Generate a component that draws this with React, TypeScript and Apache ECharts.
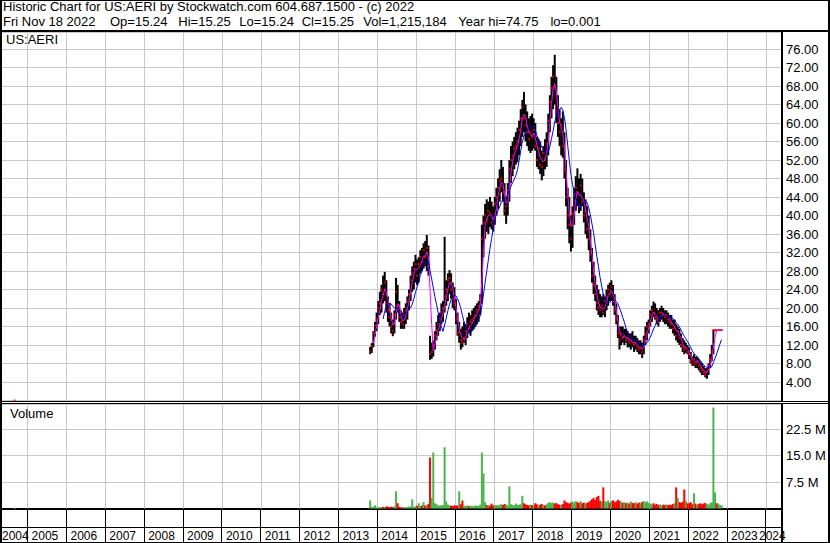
import React, { useEffect, useRef } from 'react';
import * as echarts from 'echarts';

// ---- Data (semi-monthly bars from the Oct 2013 IPO to Nov 18 2022) ----
const startYear = 2013.82;
const periodsPerYear = 24;

const priceLow = [
  10.0, 10.3, 11.5, 13.8, 15.0,
  16.5, 18.5, 19.0, 21.0, 21.5, 19.0, 17.0, 16.0, 14.5, 13.9, 14.5, 17.5, 19.0, 17.0, 15.5, 15.5, 15.5, 16.5, 17.5, 19.5, 21.5, 23.5, 24.0, 25.5,
  25.0, 25.5, 27.5, 28.0, 28.5, 29.0, 28.0, 27.0, 8.8, 9.0, 9.5, 11.0, 13.0, 14.0, 15.0, 16.5, 17.0, 19.0, 20.5, 21.5, 23.0, 22.0, 20.0, 19.5,
  16.5, 14.0, 12.5, 11.0, 11.5, 12.5, 12.0, 13.5, 14.5, 14.0, 15.0, 15.5, 16.0, 16.5, 17.0, 18.5, 21.0, 31.0, 35.0, 36.5, 36.0, 37.5, 37.0, 36.5,
  38.0, 40.0, 41.5, 43.0, 45.0, 43.0, 40.0, 38.2, 40.0, 43.0, 47.0, 48.5, 50.0, 51.0, 51.5, 53.0, 55.0, 57.0, 58.0, 56.0, 55.0, 54.0, 53.5, 54.0,
  54.5, 54.0, 50.5, 50.0, 49.0, 47.6, 48.5, 50.0, 50.5, 53.0, 58.0, 61.0, 63.0, 64.0, 60.0, 57.0, 55.0, 53.0, 52.5, 48.0, 42.0, 37.0, 34.0, 32.2,
  33.0, 38.0, 41.0, 42.0, 40.5, 41.0, 42.0, 38.5, 36.0, 35.0, 32.5, 30.0, 25.5, 23.0, 21.5, 19.5, 18.5, 18.0, 18.0, 18.5, 18.0, 19.5, 20.5, 21.5,
  21.5, 20.5, 18.5, 16.5, 13.5, 11.0, 12.0, 12.5, 12.0, 12.5, 11.5, 11.5, 11.0, 11.5, 10.5, 11.0, 10.5, 10.0, 10.0, 9.2, 10.0, 12.0, 13.0, 14.5,
  16.0, 17.0, 18.0, 17.5, 16.5, 16.0, 17.0, 17.5, 17.0, 16.5, 16.5, 16.0, 15.5, 15.5, 14.5, 14.0, 13.0, 12.5, 12.0, 11.5, 10.5, 10.0, 10.3, 10.0,
  9.0, 8.0, 7.5, 7.5, 7.0, 7.0, 6.5, 6.0, 5.5, 5.5, 5.0, 4.7, 5.5, 7.0, 8.5, 10.0, 15.0, 15.1, 15.1, 15.15, 15.2,
];

const priceHigh = [
  11.6, 12.4, 15.0, 17.0, 19.0,
  21.5, 23.5, 25.0, 27.0, 27.8, 26.0, 22.5, 21.0, 19.0, 17.5, 19.5, 26.5, 25.0, 21.5, 19.5, 19.0, 20.0, 21.0, 22.5, 24.0, 27.0, 29.0, 30.0, 31.5,
  30.5, 31.0, 32.5, 33.0, 34.0, 34.5, 35.8, 33.5, 14.0, 12.5, 13.0, 15.0, 17.0, 18.5, 19.0, 21.0, 21.5, 35.4, 26.0, 27.5, 28.2, 27.5, 25.5, 24.5,
  22.0, 19.0, 17.0, 15.5, 16.0, 17.0, 16.5, 18.0, 19.0, 18.5, 19.5, 20.0, 20.5, 21.0, 21.5, 23.0, 38.0, 40.0, 42.5, 43.5, 43.0, 44.0, 43.0, 42.0,
  44.0, 46.0, 48.0, 50.0, 52.0, 50.5, 47.0, 44.0, 47.0, 52.0, 55.0, 56.0, 57.0, 58.0, 59.0, 60.5, 63.0, 65.0, 66.7, 64.0, 62.5, 61.0, 61.5, 62.0,
  61.0, 60.0, 57.0, 56.5, 56.0, 54.0, 55.0, 56.5, 58.0, 62.0, 66.0, 70.0, 72.5, 74.75, 70.0, 66.0, 63.0, 61.0, 62.5, 58.0, 52.0, 46.0, 44.0, 40.0,
  42.0, 46.0, 48.5, 50.2, 48.0, 49.0, 48.0, 45.0, 43.5, 42.0, 40.0, 37.0, 33.0, 30.0, 27.0, 25.0, 24.0, 23.0, 22.5, 23.0, 22.5, 24.0, 25.0, 25.5,
  26.0, 25.0, 23.0, 21.0, 18.5, 16.0, 16.0, 16.0, 15.5, 15.5, 15.0, 14.5, 14.5, 15.0, 14.0, 14.0, 13.5, 13.0, 13.0, 12.5, 14.0, 16.0, 17.0, 17.5,
  19.5, 20.5, 21.4, 21.0, 20.0, 19.5, 20.0, 20.5, 20.0, 19.5, 19.5, 19.0, 18.5, 18.5, 17.5, 17.5, 16.5, 16.0, 15.5, 14.5, 13.5, 13.0, 12.5, 12.0,
  11.5, 10.5, 9.5, 10.0, 9.5, 9.5, 9.0, 8.5, 8.0, 7.5, 7.0, 7.0, 8.0, 10.0, 12.0, 15.3, 15.3, 15.3, 15.3, 15.3, 15.3,
];

const priceClose = [
  10.6, 11.8, 14.6, 16.2, 17.5,
  20.0, 21.0, 24.0, 23.0, 25.5, 21.0, 19.5, 18.0, 16.0, 15.0, 18.5, 23.5, 20.5, 18.0, 17.0, 16.5, 18.5, 19.5, 21.5, 23.0, 26.0, 27.5, 28.5, 29.5,
  27.0, 29.5, 31.0, 30.0, 32.5, 31.0, 33.0, 29.0, 10.0, 10.5, 12.0, 14.0, 15.0, 16.5, 17.5, 19.0, 20.0, 22.5, 24.0, 26.0, 26.5, 24.0, 22.0, 21.0,
  17.5, 14.5, 14.8, 13.0, 12.5, 13.5, 15.0, 16.5, 15.5, 17.0, 17.5, 18.0, 18.5, 19.5, 20.5, 22.0, 35.0, 38.5, 40.0, 39.0, 41.0, 40.5, 38.5, 38.0,
  42.5, 44.0, 46.0, 47.5, 48.0, 45.0, 41.0, 42.0, 45.5, 50.0, 52.0, 53.0, 54.5, 55.0, 56.0, 58.5, 61.0, 63.5, 61.0, 59.5, 58.0, 56.5, 58.0, 57.0,
  58.5, 55.0, 52.0, 54.5, 51.0, 50.5, 53.5, 52.0, 55.5, 60.5, 64.5, 67.5, 70.0, 68.0, 62.5, 60.0, 58.0, 59.5, 55.0, 50.0, 44.0, 40.0, 38.0, 35.0,
  40.5, 44.5, 46.0, 45.0, 42.0, 46.5, 43.0, 40.0, 41.0, 37.0, 35.0, 32.0, 27.0, 25.0, 23.0, 21.0, 20.0, 19.5, 20.5, 19.0, 21.5, 22.5, 24.0, 23.0,
  24.5, 21.5, 19.5, 17.5, 14.5, 13.0, 14.5, 13.5, 14.0, 13.0, 13.5, 12.5, 13.0, 12.5, 12.0, 12.5, 11.5, 11.0, 11.5, 10.5, 13.0, 14.5, 16.0, 16.5,
  18.5, 19.5, 19.0, 18.0, 17.5, 17.0, 19.0, 19.0, 18.5, 18.0, 18.5, 17.5, 17.0, 16.5, 15.5, 16.0, 14.0, 15.0, 13.5, 12.0, 11.5, 11.0, 11.5, 10.5,
  10.0, 8.5, 8.0, 9.0, 8.0, 8.5, 7.5, 7.0, 6.5, 6.0, 5.5, 6.5, 7.5, 9.0, 10.5, 15.2, 15.2, 15.18, 15.22, 15.25, 15.25,
];

// volume in millions of shares
const volumeM = [
  2.3, 0.5, 0.4, 0.9, 0.3,
  0.4, 0.3, 0.4, 0.5, 0.4, 0.6, 0.5, 0.4, 0.5, 0.4, 0.6, 4.9, 1.5, 0.5, 0.3, 0.3, 0.4, 0.3, 0.4, 0.5, 0.6, 2.6, 0.5, 0.6,
  0.8, 1.5, 0.7, 0.9, 1.8, 0.8, 1.0, 1.3, 14.5, 3.0, 15.9, 1.5, 1.2, 0.9, 0.8, 1.0, 0.9, 17.4, 2.0, 1.1, 0.9, 0.8, 0.7, 0.9,
  0.8, 0.9, 4.9, 1.2, 2.3, 0.8, 0.7, 0.9, 0.6, 0.8, 0.7, 0.6, 0.9, 0.7, 0.8, 1.1, 15.9, 10.0, 1.8, 1.0, 0.9, 0.8, 1.4, 0.9,
  0.9, 1.0, 0.8, 1.1, 1.2, 1.0, 1.3, 1.1, 0.9, 6.3, 1.2, 1.0, 0.9, 1.4, 1.0, 1.1, 1.2, 3.6, 1.5, 1.2, 1.0, 0.9, 1.1, 1.0,
  1.0, 1.5, 1.2, 0.9, 1.1, 1.3, 1.0, 0.9, 1.2, 1.6, 1.8, 1.5, 1.7, 1.4, 1.6, 1.2, 1.1, 1.0, 1.3, 2.3, 1.8, 1.6, 1.4, 1.7,
  2.0, 1.7, 2.1, 1.8, 1.6, 2.1, 1.5, 1.7, 1.4, 1.6, 1.8, 2.2, 2.6, 3.0, 2.4, 3.3, 3.6, 2.2, 1.9, 6.0, 2.1, 1.8, 2.3, 1.6,
  2.1, 2.3, 1.8, 2.0, 2.5, 2.2, 1.9, 1.6, 1.8, 1.5, 1.7, 1.4, 2.0, 1.6, 1.5, 1.8, 1.4, 1.7, 1.5, 1.9, 2.1, 1.8, 2.0, 1.6,
  1.4, 1.2, 1.5, 1.1, 1.3, 1.0, 1.2, 0.9, 1.1, 1.0, 1.2, 0.9, 1.1, 1.0, 1.3, 1.5, 6.0, 3.0, 1.8, 1.6, 1.9, 5.4, 2.2, 1.5,
  1.5, 1.8, 1.2, 4.3, 1.4, 1.1, 1.3, 1.5, 1.2, 1.4, 1.6, 1.3, 1.1, 1.5, 1.8, 28.7, 4.6, 1.5, 1.4, 1.0, 0.9,
];

// stray early record (year low 0.001)
const earlyYear = [2004.67];
const earlyClose = [0.001];
const earlyVolumeM = [0.2];

const yearTicks = [2005, 2006, 2007, 2008, 2009, 2010, 2011, 2012, 2013, 2014, 2015, 2016, 2017, 2018, 2019, 2020, 2021, 2022, 2023, 2024];
const yearLabels = ['2004', '2005', '2006', '2007', '2008', '2009', '2010', '2011', '2012', '2013', '2014', '2015', '2016', '2017', '2018', '2019', '2020', '2021', '2022', '2023', '2024'];

const headerLine1 = 'Historic Chart for US:AERI by Stockwatch.com 604.687.1500 - (c) 2022';
const headerTokens = ['Fri Nov 18 2022', 'Op=15.24', 'Hi=15.25', 'Lo=15.24', 'Cl=15.25', 'Vol=1,215,184', 'Year hi=74.75', 'lo=0.001'];
const headerTokenX = [3, 110, 178.3, 239.3, 301.7, 363.3, 458.3, 550.4];

// ---- Layout constants ----
const FONT = 'Liberation Sans, Arial, sans-serif';
const PX_PER_YEAR = 38.86;
const X_MIN = 2005 - (27.4 - 2) / PX_PER_YEAR;
const X_MAX = 2005 + (782 - 27.4) / PX_PER_YEAR;
const PRICE_MAX = 368.5 / 4.625;
const VOL_MAX = (104.5 / 26.4) * 7.5;
const GREY = '#c8c8c8';

const periodYear = (i: number) => startYear + i / periodsPerYear;

function sma(values: number[], n: number): [number, number][] {
  const out: [number, number][] = [];
  for (let i = n - 1; i < values.length; i++) {
    let s = 0;
    for (let k = i - n + 1; k <= i; k++) s += values[k];
    out.push([periodYear(i), s / n]);
  }
  return out;
}

const labelPos = yearLabels.map((y) => {
  const yr = Number(y);
  if (yr === 2004) return X_MIN;
  if (yr === 2024) return X_MAX - 23 / PX_PER_YEAR;
  return yr + 4.2 / PX_PER_YEAR;
});

// vertical year grid drawn through the axes' own scales
function yearGridSeries(xAxisIndex: number, yMax: number) {
  return {
    type: 'custom',
    xAxisIndex,
    yAxisIndex: xAxisIndex,
    z: 1,
    silent: true,
    encode: { x: 0, y: 1 },
    data: yearTicks.map((y) => [y, 0]),
    renderItem: (params: any, api: any) => {
      const x = api.value(0);
      const a = api.coord([x, 0]);
      const b = api.coord([x, yMax]);
      const px = Math.round(a[0]) + 0.5;
      return {
        type: 'line',
        shape: { x1: px, y1: a[1], x2: px, y2: b[1] },
        style: { stroke: GREY, lineWidth: 1 },
      };
    },
  };
}

function buildOption() {
  const rangeData = priceLow.map((lo, i) => [periodYear(i), lo, priceHigh[i]]);
  const closeData: [number, number][] = priceClose.map((c, i) => [periodYear(i), c]);
  earlyYear.forEach((y, i) => closeData.unshift([y, earlyClose[i]]));

  const volData: [number, number, number][] = volumeM.map((v, i) => [
    periodYear(i),
    v,
    i === 0 || priceClose[i] >= priceClose[i - 1] ? 1 : 0,
  ]);
  earlyYear.forEach((y, i) => volData.unshift([y, earlyVolumeM[i], 1]));

  const txt = (text: string, x: number, y: number, size = 13) => ({
    type: 'text',
    x,
    y,
    silent: true,
    z: 100,
    style: {
      text,
      fill: '#000',
      fontSize: size,
      fontFamily: FONT,
      verticalAlign: 'middle',
      textVerticalAlign: 'middle',
    },
  });
  const ln = (x1: number, y1: number, x2: number, y2: number, w = 1) => ({
    type: 'line',
    silent: true,
    z: 100,
    shape: { x1, y1, x2, y2 },
    style: { stroke: '#000', lineWidth: w },
  });

  return {
    animation: false,
    backgroundColor: '#ffffff',
    textStyle: { fontFamily: FONT },
    grid: [
      { left: 2, top: 32, width: 780, height: 368.5, outerBoundsMode: 'none', containLabel: false },
      { left: 2, top: 404, width: 780, height: 104.5, outerBoundsMode: 'none', containLabel: false },
    ],
    xAxis: [
      {
        type: 'value',
        gridIndex: 0,
        min: X_MIN,
        max: X_MAX,
        axisLine: { show: false },
        axisTick: { show: false },
        axisLabel: { show: false },
        splitLine: { show: false },
      },
      {
        type: 'value',
        gridIndex: 1,
        min: X_MIN,
        max: X_MAX,
        axisLine: { show: true, onZero: false, lineStyle: { color: '#000', width: 2 } },
        axisTick: { show: true, inside: false, length: 35, customValues: yearTicks, lineStyle: { color: '#000', width: 1 } },
        axisLabel: {
          show: true,
          customValues: labelPos,
          hideOverlap: false,
          showMinLabel: true,
          showMaxLabel: true,
          margin: 27,
          align: 'left',
          verticalAlign: 'middle',
          color: '#000',
          fontSize: 12,
          fontFamily: FONT,
          formatter: (v: number) => {
            const idx = labelPos.findIndex((p) => Math.abs(p - v) < 1e-6);
            return idx >= 0 ? yearLabels[idx] : '';
          },
        },
        splitLine: { show: false },
      },
    ],
    yAxis: [
      {
        type: 'value',
        gridIndex: 0,
        position: 'right',
        min: 0,
        max: PRICE_MAX,
        interval: 4,
        axisLine: { show: true, onZero: false, lineStyle: { color: '#000', width: 2 } },
        axisTick: { show: false },
        axisLabel: {
          margin: 4,
          color: '#000',
          fontSize: 13,
          fontFamily: FONT,
          formatter: (v: number) => (v > 0 && Math.abs(v / 4 - Math.round(v / 4)) < 1e-9 ? v.toFixed(2) : ''),
        },
        splitLine: { show: true, lineStyle: { color: GREY, width: 1 } },
      },
      {
        type: 'value',
        gridIndex: 1,
        position: 'right',
        min: 0,
        max: VOL_MAX,
        interval: 7.5,
        axisLine: { show: true, onZero: false, lineStyle: { color: '#000', width: 2 } },
        axisTick: { show: false },
        axisLabel: {
          margin: 4,
          color: '#000',
          fontSize: 13,
          fontFamily: FONT,
          formatter: (v: number) =>
            v > 0 && Math.abs(v / 7.5 - Math.round(v / 7.5)) < 1e-9 ? v.toFixed(1) + ' M' : '',
        },
        splitLine: { show: true, lineStyle: { color: GREY, width: 1 } },
      },
    ],
    series: [
      yearGridSeries(0, PRICE_MAX),
      yearGridSeries(1, VOL_MAX),
      {
        type: 'custom',
        name: 'range',
        xAxisIndex: 0,
        yAxisIndex: 0,
        z: 2,
        silent: true,
        encode: { x: 0, y: [1, 2] },
        data: rangeData,
        renderItem: (params: any, api: any) => {
          const t = api.value(0);
          const top = api.coord([t, api.value(2)]);
          const bot = api.coord([t, api.value(1)]);
          return {
            type: 'rect',
            shape: { x: top[0] - 1, y: top[1], width: 2, height: Math.max(1, bot[1] - top[1]) },
            style: { fill: '#000' },
          };
        },
      },
      {
        type: 'scatter',
        name: 'close',
        xAxisIndex: 0,
        yAxisIndex: 0,
        z: 3,
        silent: true,
        symbol: 'rect',
        symbolSize: 2,
        itemStyle: { color: '#ff0000' },
        data: closeData,
      },
      {
        type: 'line',
        name: 'ma short',
        xAxisIndex: 0,
        yAxisIndex: 0,
        z: 4,
        silent: true,
        showSymbol: false,
        symbol: 'none',
        lineStyle: { color: '#ff00ff', width: 1 },
        data: sma(priceClose, 3),
      },
      {
        type: 'line',
        name: 'ma long',
        xAxisIndex: 0,
        yAxisIndex: 0,
        z: 5,
        silent: true,
        showSymbol: false,
        symbol: 'none',
        lineStyle: { color: '#0000ff', width: 1 },
        data: sma(priceClose, 9),
      },
      {
        type: 'custom',
        name: 'volume',
        xAxisIndex: 1,
        yAxisIndex: 1,
        z: 2,
        silent: true,
        encode: { x: 0, y: 1 },
        data: volData,
        renderItem: (params: any, api: any) => {
          const t = api.value(0);
          const top = api.coord([t, api.value(1)]);
          const bot = api.coord([t, 0]);
          return {
            type: 'rect',
            shape: { x: top[0] - 1, y: top[1], width: 2, height: Math.max(1, bot[1] - top[1]) },
            style: { fill: api.value(2) === 1 ? '#4cb34c' : '#ff0000' },
          };
        },
      },
    ],
    graphic: [
      ln(0, 0.5, 830, 0.5, 1),
      ln(1, 0, 1, 543, 2),
      ln(829, 0, 829, 543, 2),
      ln(0, 542.5, 830, 542.5, 1),
      ln(0, 31, 830, 31, 2),
      ln(0, 401.5, 830, 401.5, 1),
      ln(0, 403.5, 830, 403.5, 1),
      ln(2, 527.5, 782, 527.5, 1),
      ln(782, 508, 782, 543, 2),
      txt(headerLine1, 3, 6.8),
      ...headerTokens.map((t, i) => txt(t, headerTokenX[i], 21.5)),
      txt('US:AERI', 6, 39.8),
      txt('Volume', 10, 413.8),
    ],
  };
}

export default function App() {
  const ref = useRef<HTMLDivElement>(null);
  useEffect(() => {
    document.body.style.margin = '0';
    if (!ref.current) return;
    const chart = echarts.init(ref.current, null, { renderer: 'svg' });
    chart.setOption(buildOption() as any);
    return () => chart.dispose();
  }, []);
  return <div ref={ref} style={{ width: 830, height: 543 }} />;
}
